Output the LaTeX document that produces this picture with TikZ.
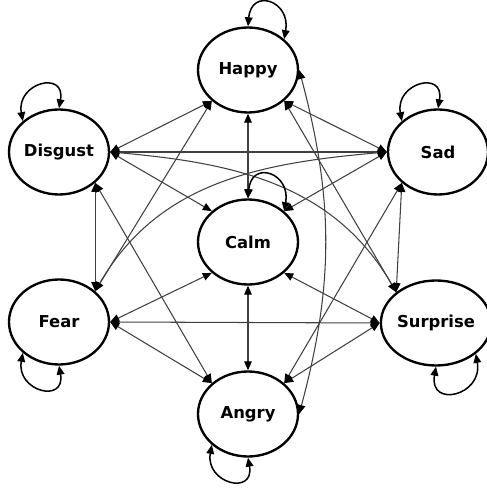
\documentclass[tikz,border=0pt]{standalone}
\usepackage{fontspec}
\setmainfont{DejaVu Sans}
\usetikzlibrary{shapes.geometric,arrows.meta}

\tikzset{
  emotion/.style={draw, ellipse, line width=2pt, minimum width=30mm, minimum height=25.5mm,
    inner sep=0pt, font=\bfseries\fontsize{14}{16}\selectfont},
  link/.style={draw=black!75, line width=0.9pt,
    {Triangle[length=2.7mm,width=2.3mm,color=black]}-{Triangle[length=2.7mm,width=2.3mm,color=black]}},
  selfloop/.style={link, draw=black, line width=1.3pt, looseness=2.6}
}

\begin{document}
\begin{tikzpicture}[x=0.3mm, y=0.3mm]
    \useasboundingbox (0,0) rectangle (486,489);

    % Emotion states
    \node[emotion] (hap) at (248,419) {Happy};
    \node[emotion] (dis) at (59,337) {Disgust};
    \node[emotion] (sad) at (438,337) {Sad};
    \node[emotion] (cal) at (248,247) {Calm};
    \node[emotion] (fea) at (59,167) {Fear};
    \node[emotion] (sur) at (436,166) {Surprise};
    \node[emotion] (ang) at (248,75) {Angry};

    % Straight transitions
    \draw[link] (hap.south) -- (cal.north);
    \draw[link] (cal.south) -- (ang.north);
    \draw[link] (dis.east) -- (sad.west);
    \draw[link] (fea.east) -- (sur.west);
    \draw[link] (dis.south east) -- (fea.north east);
    \draw[link] (sad.south west) -- (sur.north west);
    \draw[link] (dis.east) -- (hap.south west);
    \draw[link] (dis.east) -- (cal.north west);
    \draw[link] (sad.west) -- (hap.south east);
    \draw[link] (sad.west) -- (cal.north east);
    \draw[link] (fea.east) -- (cal.south west);
    \draw[link] (fea.east) -- (ang.north west);
    \draw[link] (sur.west) -- (cal.south east);
    \draw[link] (sur.west) -- (ang.north east);
    \draw[link] (hap.south west) -- (fea.north east);
    \draw[link] (hap.south east) -- (sur.north west);
    \draw[link] (dis.south east) -- (ang.north west);
    \draw[link] (sad.south west) -- (ang.north east);

    % Curved transitions
    \draw[link] (dis.east) to[out=-5, in=120] (sur.north west);
    \draw[link] (sad.west) to[out=185, in=60] (fea.north east);
    \draw[link] (hap.east) to[bend left=15] (ang.east);

    % Self transitions
    \draw[selfloop] (hap.north) to[out=85, in=80] (hap.north east);
    \draw[selfloop] (cal.north) to[out=85, in=80] (cal.north east);
    \draw[selfloop] (dis.north west) to[out=100, in=80] (dis.north);
    \draw[selfloop] (sad.north west) to[out=100, in=80] (sad.north);
    \draw[selfloop] (fea.south west) to[out=-100, in=-80] (fea.south);
    \draw[selfloop] (ang.south west) to[out=-100, in=-80] (ang.south);
    \draw[selfloop] (sur.south) to[out=-100, in=-80] (sur.south east);
\end{tikzpicture}
\end{document}
